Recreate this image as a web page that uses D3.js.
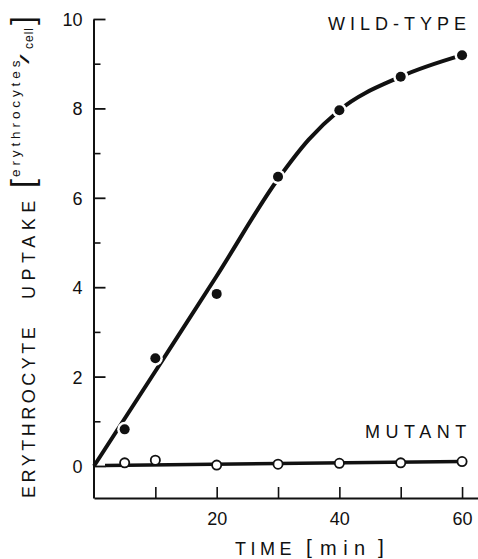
<!DOCTYPE html>
<html><head><meta charset="utf-8">
<script src="https://cdn.jsdelivr.net/npm/d3@7"></script>
<style>
html,body{margin:0;padding:0;background:#fff;}
text{font-family:'Liberation Sans',Arial,sans-serif;fill:#111;}
</style></head>
<body>
<svg id="chart" width="478" height="559"></svg>
<script>
// ---- data ----
const times = [5, 10, 20, 30, 40, 50, 60];
const wildType = [0.82, 2.41, 3.85, 6.47, 7.96, 8.71, 9.19];
const mutant = [0.07, 0.13, 0.02, 0.04, 0.06, 0.07, 0.10];
// drawn (hand-fitted) curves
const wildFitX = [0, 10, 20, 30, 35, 40, 50, 60];
const wildFitY = [0, 2.12, 4.25, 6.42, 7.3, 7.96, 8.71, 9.19];
const mutFitX = [1.8, 60];
const mutFitY = [0.01, 0.10];
const yMajor = [0, 2, 4, 6, 8, 10];
const yMinor = [1, 3, 5, 7, 9];
const xTicks = [10, 20, 30, 40, 50, 60];
const xLabeled = [20, 40, 60];

const svg = d3.select('#chart');
const x = d3.scaleLinear().domain([0, 62.6]).range([94, 478]);
const y = d3.scaleLinear().domain([-0.716, 10]).range([498, 19]);

// y axis
const yAxis = d3.axisLeft(y).tickValues(yMajor).tickSizeInner(-12).tickSizeOuter(0)
  .tickPadding(11).tickFormat(d3.format('d'));
const gy = svg.append('g').attr('transform', 'translate(93.5,0)').call(yAxis);
gy.select('.domain').attr('stroke', '#111').attr('stroke-width', 2);
gy.selectAll('.tick line').attr('stroke', '#111').attr('stroke-width', 1.8);
gy.selectAll('.tick text').attr('font-size', 18).attr('dy', '0.36em').style('font-family', "'Liberation Sans',Arial,sans-serif");
const yMinorAxis = d3.axisLeft(y).tickValues(yMinor).tickSizeInner(-7).tickSizeOuter(0).tickFormat('');
const gym = svg.append('g').attr('transform', 'translate(93.5,0)').call(yMinorAxis);
gym.select('.domain').remove();
gym.selectAll('.tick line').attr('stroke', '#111').attr('stroke-width', 1.6);

// x axis
const xAxis = d3.axisBottom(x).tickValues(xTicks).tickSizeInner(-11).tickSizeOuter(0)
  .tickPadding(14).tickFormat(d => xLabeled.includes(d) ? d : '');
const gx = svg.append('g').attr('transform', 'translate(0,498)').call(xAxis);
gx.select('.domain').attr('stroke', '#111').attr('stroke-width', 2);
gx.selectAll('.tick line').attr('stroke', '#111').attr('stroke-width', 1.6);
gx.selectAll('.tick text').attr('font-size', 18).style('font-family', "'Liberation Sans',Arial,sans-serif");

// curves
const line = d3.line().x(d => x(d[0])).y(d => y(d[1])).curve(d3.curveMonotoneX);
svg.append('path').datum(wildFitX.map((v, i) => [v, wildFitY[i]]))
  .attr('d', line).attr('fill', 'none').attr('stroke', '#111').attr('stroke-width', 4);
svg.append('path').datum(mutFitX.map((v, i) => [v, mutFitY[i]]))
  .attr('d', line).attr('fill', 'none').attr('stroke', '#111').attr('stroke-width', 3.5);

// wild-type points (with white halo breaking the line)
const wt = times.map((t, i) => [t, wildType[i]]);
svg.append('g').selectAll('circle').data(wt).join('circle')
  .attr('cx', d => x(d[0])).attr('cy', d => y(d[1])).attr('r', 7.5).attr('fill', '#fff');
svg.append('g').selectAll('circle').data(wt).join('circle')
  .attr('cx', d => x(d[0])).attr('cy', d => y(d[1])).attr('r', 5).attr('fill', '#111');

// mutant points
const mt = times.map((t, i) => [t, mutant[i]]);
svg.append('g').selectAll('circle').data(mt).join('circle')
  .attr('cx', d => x(d[0])).attr('cy', d => y(d[1])).attr('r', 4.6)
  .attr('fill', '#fff').attr('stroke', '#111').attr('stroke-width', 1.8);

// series labels
svg.append('text').attr('x', 328).attr('y', 30).attr('font-size', 18)
  .attr('letter-spacing', 5).text('WILD-TYPE');
svg.append('text').attr('x', 365).attr('y', 438).attr('font-size', 18)
  .attr('letter-spacing', 5.5).text('MUTANT');

// x label
svg.append('text').attr('x', 235).attr('y', 555).attr('font-size', 18).attr('letter-spacing', 4.5).text('TIME');
svg.append('text').attr('x', 306).attr('y', 553.6).attr('font-size', 21).text('[');
svg.append('text').attr('x', 320).attr('y', 555).attr('font-size', 20).attr('letter-spacing', 6.5).text('min');
svg.append('text').attr('x', 378).attr('y', 553.6).attr('font-size', 21).text(']');

// y label (rotated)
const gl = svg.append('g').attr('transform', 'rotate(-90)');
gl.append('text').attr('x', -498).attr('y', 35).attr('font-size', 18).attr('letter-spacing', 3.5).text('ERYTHROCYTE');
gl.append('text').attr('x', -299).attr('y', 35).attr('font-size', 18).attr('letter-spacing', 5.5).text('UPTAKE');
gl.append('text').attr('x', -188).attr('y', 33.3).attr('font-size', 32).text('[');
gl.append('text').attr('x', -177).attr('y', 20).attr('font-size', 13.5).attr('letter-spacing', 3.9).text('erythrocytes');
gl.append('text').attr('transform', 'translate(-64,29) scale(2.2,0.85)').attr('font-size', 16).text('/');
gl.append('text').attr('x', -49).attr('y', 33).attr('font-size', 12).attr('letter-spacing', 1).text('cell');
gl.append('text').attr('x', -25).attr('y', 33.3).attr('font-size', 32).text(']');
</script>
</body></html>
